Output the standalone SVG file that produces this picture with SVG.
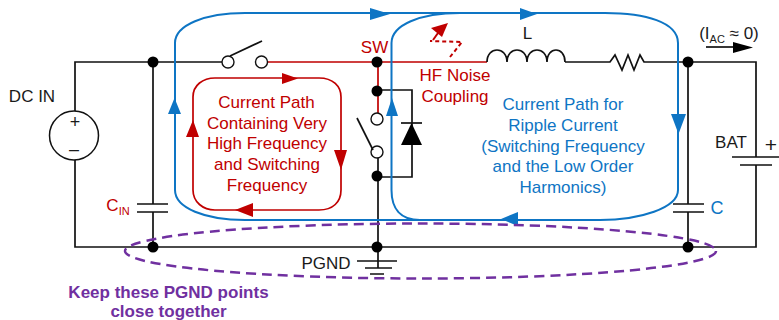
<svg xmlns="http://www.w3.org/2000/svg" width="779" height="320" viewBox="0 0 779 320">
<style>
text{font-family:"Liberation Sans",Arial,sans-serif;font-size:17px;text-anchor:middle;fill:#1a1a1a}
.w{fill:none;stroke:#111;stroke-width:1.7}
.r{fill:none;stroke:#c00000;stroke-width:1.7}
.b{fill:none;stroke:#0e75c4;stroke-width:2}
.rt{fill:#c00000}.bt{fill:#0e75c4}.k{fill:#000}
text.rd{fill:#c00000}text.bl{fill:#0e75c4}
text.pp{fill:#7030a0;font-weight:bold}
.o{fill:#fff;stroke:#111;stroke-width:1.4}
</style>
<g id="connectors">
<path class="w" d="M75 111V62H222M153 62V204M153 212V247M75 160V247H756V165M378 157V268M688 62V204M688 212V247M565 62H610L615 55L622 70L628 55L634 70L640 55L644 62H756V157"/>
<path class="w" d="M378 90H412V177H378"/>
<path class="r" d="M267 62H487M378 62V113"/>
</g>
<g id="switch1"><circle class="o" cx="228" cy="62" r="6"/><circle class="o" cx="261.500" cy="62" r="6"/><path class="w" d="M230 56L262 41"/></g>
<g id="switch2"><circle class="o" cx="377" cy="119" r="6"/><circle class="o" cx="377" cy="152" r="6"/><path class="w" d="M357 118L373 150"/></g>
<g id="dcin"><circle cx="74" cy="135.500" r="24.500" fill="#fff" stroke="#111" stroke-width="1.500"/><text x="75" y="128" style="font-size:18px">+</text><text x="74" y="155" style="font-size:18px">–</text><text x="32" y="102">DC IN</text></g>
<g id="cin"><path class="w" d="M137 204H168M137 212H168"/><text class="rd" x="118" y="211">C<tspan dy="4" font-size="11">IN</tspan></text></g>
<g id="c"><path class="w" d="M673 204H704M673 212H704"/><text class="bl" x="717" y="214" style="font-size:18px">C</text></g>
<g id="bat"><path class="w" d="M732 157H781M740 165H772"/><text x="731" y="148">BAT</text><text x="771" y="152" style="font-size:21px">+</text></g>
<g id="diode"><path class="k" d="M411.500 123L422 145H401Z"/><path class="w" d="M401 123H422"/></g>
<g id="inductor"><path class="w" d="M487 62C487 46 507 46 507 62C507 46 527 46 527 62C527 46 547 46 547 62C547 46 565 46 565 62"/><text x="527.500" y="39">L</text></g>
<g id="sw"><text class="rd" x="374.500" y="53">SW</text></g>
<g id="pgnd"><path class="w" d="M357 261H397M365 268H392M370 274H384"/><text x="326" y="269">PGND</text></g>
<g id="dots" class="k"><circle cx="153" cy="62" r="5.500"/><circle cx="377" cy="62" r="5.500"/><circle cx="377" cy="91" r="5.500"/><circle cx="377" cy="176" r="5.500"/><circle cx="153" cy="247" r="5.500"/><circle cx="377" cy="247" r="5.500"/><circle cx="688" cy="62" r="5.500"/><circle cx="688" cy="247" r="5.500"/></g>
<g id="ripple-path">
<path class="b" d="M175 43C175 25 205 13 245 13H605C645 13 678 22 678 43V190C678 208 640 220 600 220H420C400 220 391.500 208 391.500 190V43C391.500 25 420 13 460 13"/>
<path class="b" d="M175 43V190C175 208 205 220 245 220H420"/>
<path class="bt" d="M370 8L390 14L370 20ZM520 8L537 14L520 20ZM174.500 98L181 114H168ZM671 114H686L678.500 134ZM518 212V226L501 219ZM392 98L398 116H386Z"/>
</g>
<g id="hf-path">
<path class="r" d="M193 97C193 85 203 78 215 78H319C333 78 341 86 341 97V190C341 202 333 210 319 210H215C203 210 193 202 193 190Z"/>
<path class="rt" d="M282 73L298 78.500L282 84ZM193 120L199 137H186ZM334 150H347L341 170ZM253 203V217L235 210Z"/>
<text class="rd" x="266.500" y="108">Current Path</text><text class="rd" x="267" y="129">Containing Very</text><text class="rd" x="267" y="149">High Frequency</text><text class="rd" x="267" y="170">and Switching</text><text class="rd" x="267" y="191">Frequency</text>
</g>
<g id="ripple-label"><text class="bl" x="563" y="110">Current Path for</text><text class="bl" x="563" y="131">Ripple Current</text><text class="bl" x="563" y="152">(Switching Frequency</text><text class="bl" x="563" y="172">and the Low Order</text><text class="bl" x="563" y="193">Harmonics)</text></g>
<g id="noise"><path d="M450 57L462 42L430 41" fill="none" stroke="#c00000" stroke-width="2" stroke-dasharray="4 3"/><path d="M433 40L438 33" fill="none" stroke="#c00000" stroke-width="2"/><path class="rt" d="M448 23L442 37L431 28Z"/><text class="rd" x="455" y="81">HF Noise</text><text class="rd" x="455" y="102">Coupling</text></g>
<g id="iac"><text x="729" y="39">(I<tspan dy="4" font-size="11">AC</tspan><tspan dy="-4"> ≈ 0)</tspan></text><path class="w" d="M706 47H735"/><path class="k" d="M733 42L753 47.500L733 53Z"/></g>
<g id="keep"><ellipse cx="420.500" cy="251" rx="295.500" ry="27.500" fill="none" stroke="#7030a0" stroke-width="2.500" stroke-dasharray="10 6"/><text class="pp" x="168.500" y="298">Keep these PGND points</text><text class="pp" x="168.500" y="317">close together</text></g>
</svg>
